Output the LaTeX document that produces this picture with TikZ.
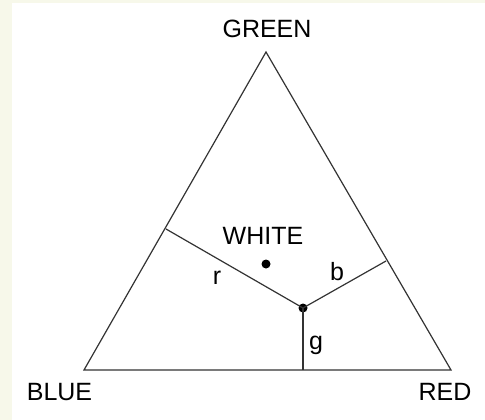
\documentclass[tikz,border=0pt]{standalone}
\usepackage{fontspec}
\setmainfont{Liberation Sans}
\definecolor{cream}{HTML}{F7F8EA}
\definecolor{ink}{HTML}{333333}
\tikzset{
  edge/.style={draw=ink, line width=1.2pt},
  lbl/.style={inner sep=0pt, text=black, font=\fontsize{25}{30}\selectfont},
  dotnode/.style={circle, fill=black, inner sep=0pt, minimum size=9pt}
}
\begin{document}
\begin{tikzpicture}[x=1pt,y=-1pt]
\useasboundingbox (0,0) rectangle (485,420);
\fill[cream] (0,0) rectangle (485,420);
\fill[white] (12,3) rectangle (485,420);
% vertices
\coordinate (G) at (266,52);
\coordinate (B) at (84,370);
\coordinate (R) at (451,370);
\coordinate (L) at (166,229);
\coordinate (Rt) at (386,261);
\coordinate (Gb) at (303,370);
\node[dotnode] (J) at (303,308) {};
\node[dotnode] (W) at (266,264) {};
% triangle
\draw[edge, line join=miter] (G) -- (R) -- (B) -- cycle;
% dividers
\draw[edge] (L) -- (J.center) -- (Rt);
\draw[edge] (J.center) -- (Gb);
% labels
\node[lbl] (tG) at (267,29) {GREEN};
\node[lbl] (tB) at (59.5,392) {BLUE};
\node[lbl] (tR) at (445,392) {RED};
\node[lbl] (tW) at (263,236) {WHITE};
\node[lbl] (tr) at (217,278) {r};
\node[lbl] (tb) at (337,272) {b};
\node[lbl] (tg) at (316,345) {g};
\end{tikzpicture}
\end{document}
